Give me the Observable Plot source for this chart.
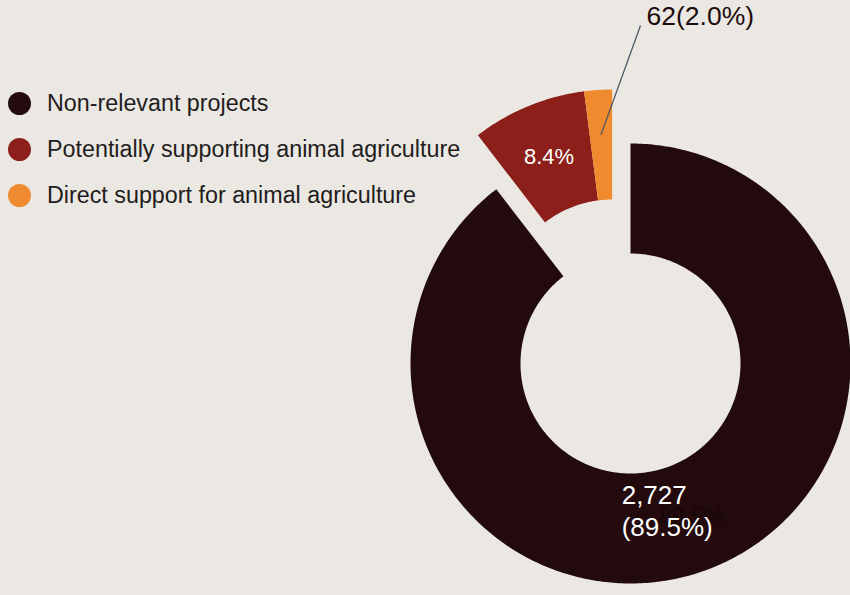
<!DOCTYPE html>
<html><head><meta charset="utf-8">
<script src="https://cdn.jsdelivr.net/npm/d3@7"></script>
<script src="https://cdn.jsdelivr.net/npm/@observablehq/plot@0.6"></script>
<style>
html,body{margin:0;padding:0;background:#ebe8e3;}
#wrap{position:relative;width:850px;height:595px;overflow:hidden;}
#legend{position:absolute;left:0;top:0;font-family:"Liberation Sans",Arial,sans-serif;font-size:23.3px;color:#231c1c;}
.item{position:absolute;left:8px;height:26px;display:flex;align-items:center;white-space:nowrap;}
.sw{width:23px;height:23px;border-radius:50%;margin-right:16px;flex:none;}
</style></head><body>
<div id="wrap"><div id="chart"></div><div id="legend"></div></div>
<script>
const categories = ["Non-relevant projects", "Potentially supporting animal agriculture", "Direct support for animal agriculture"];
const counts = [2727, 256, 62];
const countLabels = ["2,727", "256", "62"];
const pctLabels = ["89.5%", "8.4%", "2.0%"];
const colors = ["#230b0d", "#8c1f1a", "#ef8a2f"];

const R0 = 110, R1 = 220, explode = 57;
const pie = d3.pie().sort(null).value(d => d)(counts);
const gMid = (pie[1].startAngle + pie[2].endAngle) / 2;
const off = i => i === 0 ? [0, 0] : [explode * Math.sin(gMid), explode * Math.cos(gMid)];
const polar = (i, r, a) => { const [ox, oy] = off(i); return [ox + r * Math.sin(a), oy + r * Math.cos(a)]; };

const pts = [];
pie.forEach((p, i) => {
  const n = Math.max(6, Math.ceil((p.endAngle - p.startAngle) * 80));
  for (let k = 0; k <= n; k++) {
    const a = p.startAngle + (p.endAngle - p.startAngle) * k / n;
    const [x, y] = polar(i, R1, a); pts.push({cat: categories[i], x, y});
  }
  for (let k = n; k >= 0; k--) {
    const a = p.startAngle + (p.endAngle - p.startAngle) * k / n;
    const [x, y] = polar(i, R0, a); pts.push({cat: categories[i], x, y});
  }
});

const mid = i => (pie[i].startAngle + pie[i].endAngle) / 2;
const cen = i => polar(i, (R0 + R1) / 2, mid(i));

const [c0x, c0y] = cen(0);
const [c1x, c1y] = cen(1);
const [l2x, l2y] = polar(2, R1 - 45, mid(2));
const tag2 = {x: 16, y: 347};

const inner = [
  {x: c0x, y: c0y, t: countLabels[0] + "\n(" + pctLabels[0] + ")"},
];
const mids = [{x: c1x, y: c1y, t: pctLabels[1]}];

const chart = Plot.plot({
  width: 850, height: 595, margin: 0,
  style: {background: "transparent", fontFamily: "'Liberation Sans', Arial, sans-serif"},
  x: {domain: [-630, 220], axis: null},
  y: {domain: [-232, 363], axis: null},
  color: {domain: categories, range: colors},
  marks: [
    Plot.line(pts, {x: "x", y: "y", z: "cat", fill: "cat", stroke: null, curve: "linear-closed"}),
    Plot.text([{x: c0x, y: c0y, t: pctLabels[0]}], {x: "x", y: "y", text: "t", fill: "#170607", fontSize: 23, dx: 8, dy: -3}),
    Plot.text(inner, {x: "x", y: "y", text: "t", fill: "white", fontSize: 26, textAnchor: "start", lineHeight: 1.23, dx: -62, dy: -10}),
    Plot.text(mids, {x: "x", y: "y", text: "t", fill: "white", fontSize: 22}),
    Plot.link([{x1: l2x, y1: l2y, x2: tag2.x - 6, y2: tag2.y - 9}], {x1: "x1", y1: "y1", x2: "x2", y2: "y2", stroke: "#4d5862", strokeWidth: 1.3}),
    Plot.text([{x: tag2.x, y: tag2.y, t: countLabels[2] + "(" + pctLabels[2] + ")"}], {x: "x", y: "y", text: "t", fill: "#1e0c0c", fontSize: 26.5, textAnchor: "start"})
  ]
});
document.getElementById("chart").appendChild(chart);

const legend = document.getElementById("legend");
const centers = [103, 149, 195];
categories.forEach((c, i) => {
  const el = document.createElement("div");
  el.className = "item";
  el.style.top = (centers[i] - 13) + "px";
  el.innerHTML = `<span class="sw" style="background:${colors[i]}"></span><span>${c}</span>`;
  legend.appendChild(el);
});
</script>
</body></html>
